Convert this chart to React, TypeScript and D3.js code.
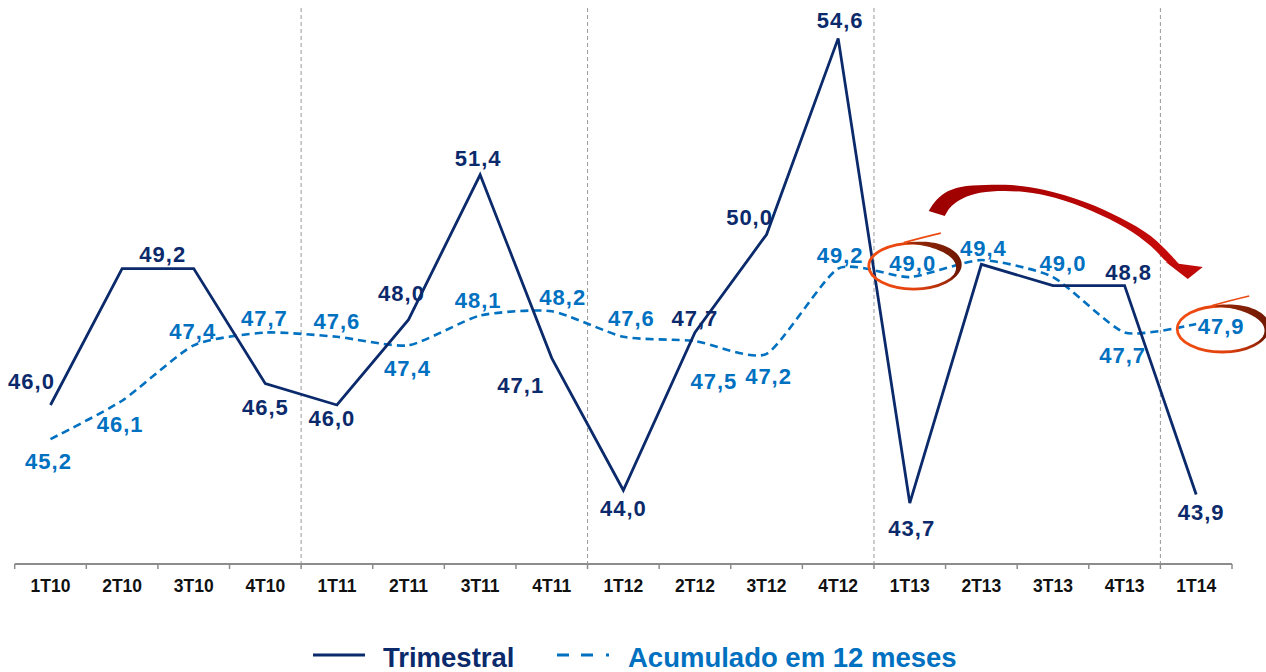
import React from "react";
import * as d3 from "d3";

const categories = ["1T10","2T10","3T10","4T10","1T11","2T11","3T11","4T11","1T12","2T12","3T12","4T12","1T13","2T13","3T13","4T13","1T14"];
const trimestral = [46.0,49.2,49.2,46.5,46.0,48.0,51.4,47.1,44.0,47.7,50.0,54.6,43.7,49.3,48.8,48.8,43.9];
const acumulado = [45.2,46.1,47.4,47.7,47.6,47.4,48.1,48.2,47.6,47.5,47.2,49.2,49.0,49.4,49.0,47.7,47.9];
const seriesNames = ["Trimestral","Acumulado em 12 meses"];
const highlighted = ["1T13","1T14"];

// label placement (layout only)
const trimLabelOffsets: ([number, number] | null)[] = [[-19,-24],null,[-31,-14],[0,23],[-5,13],[-7,-27],[-2,-17],[-31,27],[0,18],[0,-14],[-17,-17],[2,-18],[2,25],null,null,[4,-14],[5,18]];
const acumLabelOffsets: [number, number][] = [[-2,22],[-2,23],[-1,-14],[-1,-14],[0,-16],[-1,23],[-2,-15],[11,-14],[8,-19],[19,40],[2,22],[2,-13],[3,-14],[2,-12],[10,-14],[-2,23],[25,2]];

const W = 1266, H = 672;
const NAVY = "#0B2A6B";
const BLUE = "#0070C0";
const FONT = "'Liberation Sans', Arial, sans-serif";

const fmt = (v: number) => v.toFixed(1).replace(".", ",");

export default function App() {
  const x = d3.scaleBand<string>().domain(categories).range([14.7, 1232]).padding(0);
  const bw = x.bandwidth();
  const cx = (c: string) => (x(c) as number) + bw / 2;
  const y = d3.scaleLinear().domain([42.27, 55.5]).range([564, 0]);
  const axisY = y(42.27);

  const trimLine = d3.line<number>().x((_, i) => cx(categories[i])).y(d => y(d));
  const acumLine = d3.line<number>().x((_, i) => cx(categories[i])).y(d => y(d)).curve(d3.curveCardinal.tension(0.4));

  const separators = categories.map((c, i) => ({ c, i })).filter(d => d.c.startsWith("1T") && d.i > 0).map(d => x(d.c) as number);
  const tickXs = categories.map(c => x(c) as number).concat([(x(categories[categories.length - 1]) as number) + bw]);

  // highlighted ellipses around accumulated labels
  const ellipses = highlighted.map(c => {
    const i = categories.indexOf(c);
    const o = acumLabelOffsets[i];
    return { ex: cx(c) + o[0] + 1, ey: y(acumulado[i]) + o[1] + 3 };
  });
  const rx = 45, ry = 23;
  const crescent = (ex: number, ey: number) => {
    const t0 = -Math.PI / 2 - 0.15, t1 = Math.PI / 5;
    const ts = d3.range(0, 41).map(k => t0 + (t1 - t0) * k / 40);
    const wAt = (t: number) => 6.5 * Math.sin(Math.PI * (t - t0) / (t1 - t0)) + 0.8;
    const outer = ts.map(t => [ex + (rx + wAt(t) / 2) * Math.cos(t), ey + (ry + wAt(t) / 2) * Math.sin(t)] as [number, number]);
    const inner = ts.slice().reverse().map(t => [ex + (rx - wAt(t) / 2) * Math.cos(t), ey + (ry - wAt(t) / 2) * Math.sin(t)] as [number, number]);
    return "M" + outer.concat(inner).map(p => p.join(",")).join("L") + "Z";
  };

  // curved arrow from first highlight to second
  const a = ellipses[0];
  const outerPts: [number, number][] = [[15,-55],[21,-64],[31,-73],[47,-79],[71,-81],[97,-81],[131,-76],[171,-64],[207,-48],[237,-30],[257,-11],[266,-1]].map(([dx, dy]) => [a.ex + dx, a.ey + dy]);
  const innerPts: [number, number][] = [[31,-50],[36,-58],[46,-66],[61,-72],[84,-75],[111,-74],[142,-68],[178,-55],[212,-38],[237,-20],[252,-5],[257,-1]].map(([dx, dy]) => [a.ex + dx, a.ey + dy]);
  const smooth = d3.line().curve(d3.curveCatmullRom);
  const arrowBody = (smooth(outerPts) as string) + "L" + (smooth(innerPts.slice().reverse()) as string).slice(1) + "Z";
  const head: [number, number][] = [[a.ex + 252, a.ey - 4], [a.ex + 289, a.ey + 1], [a.ex + 274, a.ey + 13]];

  return (
    <div style={{ position: "fixed", left: 0, top: 0, background: "#fff" }}>
      <svg width={W} height={H} style={{ display: "block", fontFamily: FONT }}>
        <defs>
          <linearGradient id="ellGrad" x1="0" x2="1" y1="0" y2="0">
            <stop offset="0" stopColor="#F24E12" />
            <stop offset="0.55" stopColor="#E0400E" />
            <stop offset="1" stopColor="#8A2006" />
          </linearGradient>
          <linearGradient id="cresGrad" x1="0" x2="1" y1="0" y2="0">
            <stop offset="0" stopColor="#9A2A08" />
            <stop offset="1" stopColor="#6E1703" />
          </linearGradient>
          <linearGradient id="arrowGrad" x1="0" x2="1" y1="0" y2="0">
            <stop offset="0" stopColor="#9C0000" />
            <stop offset="1" stopColor="#C80A0A" />
          </linearGradient>
        </defs>

        {separators.map((sx, i) => (
          <line key={i} x1={sx} x2={sx} y1={8} y2={axisY} stroke="#999" strokeWidth={1} strokeDasharray="4,3" />
        ))}

        <line x1={tickXs[0]} x2={tickXs[tickXs.length - 1]} y1={axisY} y2={axisY} stroke="#8c8c8c" strokeWidth={2} />
        {tickXs.map((tx, i) => (
          <line key={i} x1={tx} x2={tx} y1={axisY} y2={axisY + 5} stroke="#8c8c8c" strokeWidth={1.5} />
        ))}
        {categories.map(c => (
          <text key={c} x={cx(c)} y={586} dy="0.36em" textAnchor="middle" fontSize={17.5} fontWeight="bold" fill="#111">{c}</text>
        ))}

        <path d={acumLine(acumulado) as string} fill="none" stroke={BLUE} strokeWidth={2.6} strokeDasharray="8,5" />
        <path d={trimLine(trimestral) as string} fill="none" stroke={NAVY} strokeWidth={2.8} strokeLinejoin="miter" />

        {trimestral.map((v, i) => {
          const o = trimLabelOffsets[i];
          if (!o) return null;
          return <text key={"t" + i} x={cx(categories[i]) + o[0]} y={y(v) + o[1]} dy="0.36em" textAnchor="middle" fontSize={22} fontWeight="bold" letterSpacing={1} fill={NAVY}>{fmt(v)}</text>;
        })}
        {acumulado.map((v, i) => {
          const o = acumLabelOffsets[i];
          return <text key={"a" + i} x={cx(categories[i]) + o[0]} y={y(v) + o[1]} dy="0.36em" textAnchor="middle" fontSize={22} fontWeight="bold" letterSpacing={1} fill={BLUE}>{fmt(v)}</text>;
        })}

        {ellipses.map((e, i) => (
          <g key={i}>
            <ellipse cx={e.ex} cy={e.ey} rx={rx} ry={ry} fill="none" stroke="url(#ellGrad)" strokeWidth={2.8} />
            <path d={crescent(e.ex, e.ey)} fill="url(#cresGrad)" />
            <path d={`M${e.ex - 10},${e.ey - ry - 0.5} Q${e.ex + 10},${e.ey - ry - 6} ${e.ex + 27},${e.ey - ry - 10}`} fill="none" stroke="#EA4A12" strokeWidth={1.6} />
          </g>
        ))}

        <path d={arrowBody} fill="url(#arrowGrad)" />
        <path d={"M" + head.map(p => p.join(",")).join("L") + "Z"} fill="#C00A0A" />

        <line x1={313} x2={365} y1={655} y2={655} stroke={NAVY} strokeWidth={3} />
        <text x={383} y={667} fontSize={27.5} fontWeight="bold" fill={NAVY}>{seriesNames[0]}</text>
        <line x1={557} x2={612} y1={655} y2={655} stroke={BLUE} strokeWidth={3} strokeDasharray="12,12,12,13,3,20" />
        <text x={628} y={667} fontSize={27.5} fontWeight="bold" fill={BLUE}>{seriesNames[1]}</text>
      </svg>
    </div>
  );
}
